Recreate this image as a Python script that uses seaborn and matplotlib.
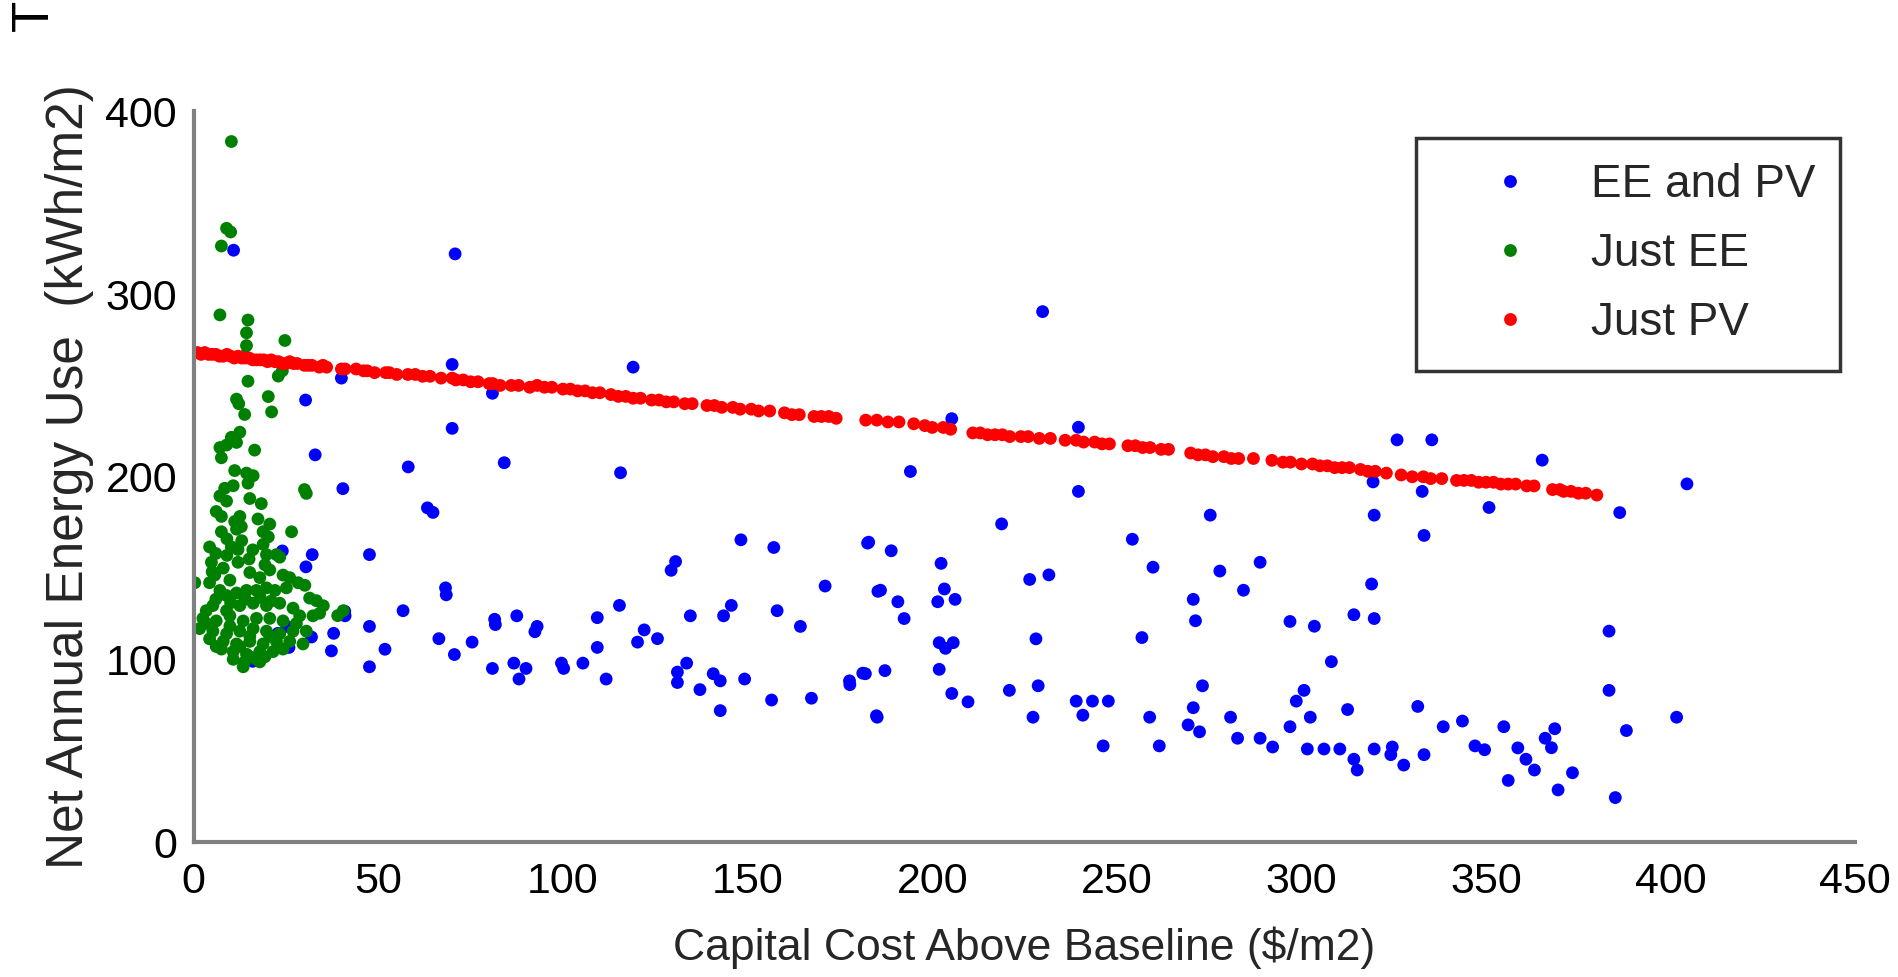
import matplotlib
matplotlib.use("Agg")
import matplotlib.pyplot as plt
import seaborn as sns
import pandas as pd

# ---------------- data ----------------
series_labels = ["EE and PV", "Just EE", "Just PV"]
series_colors = ["#0000ff", "#008000", "#ff0000"]
x_ticks = [0, 50, 100, 150, 200, 250, 300, 350, 400, 450]
y_ticks = [0, 100, 200, 300, 400]

ee_pv_points = [
    (10.8, 324), (70.8, 322),
    (70.0, 261.5), (119, 260), (40, 254), (80.9, 245.7), (30.3, 242), (70, 226.5), (32.9, 212),
    (58.1, 205.4), (84.1, 207.7), (115.6, 202.2), (40.4, 193.5), (63.3, 183), (64.8, 180.5),
    (148.2, 165.5), (157.1, 161.3), (182.8, 164.2), (130.5, 153.6), (129.3, 148.8), (24, 159.4),
    (32.1, 157.4), (30.4, 150.7), (47.6, 157.4), (171, 140.2), (68.2, 139.2), (68.4, 135.4),
    (185.3, 137.3), (56.7, 126.7), (41, 123.9), (115.3, 129.6), (145.6, 129.6), (134.5, 123.9),
    (143.5, 123.9), (158, 126.7), (81.5, 122), (81.7, 119.1), (87.5, 123.9), (109.3, 122.9),
    (164.3, 118.1), (93, 118.1), (92.4, 115.2), (47.6, 118.1), (122, 116.2), (125.6, 111.4),
    (120.2, 109.5), (109.3, 106.6), (25.2, 118.1), (22.8, 114.3), (31.9, 112.3), (37.9, 114.3),
    (37.3, 104.7), (66.4, 111.4), (75.4, 109.5), (51.8, 105.6), (70.6, 102.7), (25.8, 106.6),
    (47.6, 96), (80.9, 95.1), (86.7, 98), (90, 95.1), (88.1, 89.3), (99.6, 98), (100.2, 95.1),
    (105.4, 98), (111.7, 89.3), (131, 93.1), (131, 87.4), (133.5, 98), (137.1, 83.5), (140.7, 92.2),
    (142.6, 88.3), (142.6, 72), (149.2, 89.3), (156.5, 77.8), (167.3, 78.8), (177.6, 88.3),
    (181.9, 92.2), (184.9, 69.2), (16, 99), (40.9, 126.4),
    (229.9, 290.4), (205.3, 231.8), (239.6, 227.1), (325.9, 220.2), (335.3, 220.2), (365.2, 209.1),
    (194.1, 202.9), (404.4, 196.1), (239.6, 192), (319.4, 197.2), (332.7, 192), (350.8, 183.2),
    (386.2, 180.4), (275.3, 179), (319.7, 179), (218.8, 174.2), (182.5, 163.7), (188.9, 159.5),
    (254.2, 165.8), (333.2, 167.9), (202.4, 152.6), (259.8, 150.5), (277.9, 148.4), (288.8, 153.2),
    (226.4, 143.8), (231.6, 146.3), (319, 141.3), (186, 137.9), (190.7, 131.6), (203.3, 138.6),
    (201.5, 131.6), (206.2, 132.9), (270.7, 132.9), (284.3, 137.9), (192.4, 122.4), (296.9, 120.8),
    (303.5, 118.2), (314.2, 124.5), (319.7, 122.4), (271.3, 121.2), (383.3, 115.5), (201.9, 109.2),
    (205.7, 109.2), (203.6, 106.1), (228.1, 111.3), (256.8, 112), (308.1, 98.8), (181.2, 92.5),
    (187.2, 93.9), (177.7, 86.2), (201.9, 94.6), (205.3, 81.4), (209.7, 76.8), (220.9, 83.1),
    (228.7, 85.6), (273.2, 85.6), (300.7, 83.1), (298.6, 77.2), (383.3, 83.1), (239, 77.2),
    (243.4, 77.2), (247.7, 77.2), (240.8, 69.5), (270.7, 73.6), (269.3, 64.2), (272.4, 60.4),
    (331.5, 74.3), (185.1, 68.4), (227.3, 68.4), (258.9, 68.4), (280.8, 68.4), (302.4, 68.4),
    (312.5, 72.6), (296.9, 63.2), (401.6, 68.4), (338.4, 63.2), (343.6, 66.3), (354.8, 63.2),
    (388, 61.1), (368.6, 62.1), (366, 56.9), (367.7, 51.7), (246.3, 52.7), (261.5, 52.7),
    (282.7, 56.9), (288.8, 56.9), (292.2, 52.1), (301.6, 51), (306.1, 51), (310.4, 51),
    (314.2, 45.4), (315.1, 39.5), (319.7, 51), (324.6, 52.1), (324.2, 47.9), (327.7, 42.2),
    (333.2, 47.9), (347, 52.7), (349.6, 50.6), (358.6, 51.6), (360.8, 45.4), (363.1, 39.5),
    (356, 33.8), (369.5, 28.6), (373.4, 38), (385, 24.4),
]
ee_pv_cost = [p[0] for p in ee_pv_points]
ee_pv_energy = [p[1] for p in ee_pv_points]

just_ee_points = [
    (10.2, 383.5), (8.9, 336), (10, 334), (7.5, 326.3), (7.1, 288.6), (14.7, 285.8), (14.3, 278.8),
    (24.7, 274.6), (14.3, 271.8), (13.8, 266.2), (22.9, 255.1), (24, 258), (14.7, 252.3),
    (11.6, 242.5), (12.2, 240), (20.2, 243.9), (21.1, 235.5), (13.8, 234.1), (12.5, 224.4),
    (10.2, 221.6), (8.9, 217.4), (7.1, 216), (11.6, 218.8), (16.5, 214.6), (7.5, 210.4),
    (11.1, 203.4), (14.3, 202), (16.1, 200.6), (8.4, 193.7), (10.7, 195.1), (14.7, 196.5),
    (30.5, 190.9), (30, 193), (7.1, 189.5), (8.9, 186.7), (15.2, 188.1), (18.3, 185.3), (6.1, 181),
    (7.5, 178.3), (12.5, 178.3), (11.1, 175.5), (17.4, 176.9), (20.6, 174.1), (7.5, 169.9),
    (11.6, 171.3), (12.9, 172.7), (18.8, 169.9), (20.2, 167.1), (26.5, 169.9), (4.3, 161.6),
    (10.2, 161.6), (12, 160.2), (18.8, 163), (19.7, 157.4), (4.8, 153.2), (12, 153.2), (19.3, 151.8),
    (20.6, 149), (22.4, 157.4), (23.3, 156), (0.3, 142), (4.3, 142), (5.7, 146.2), (24.2, 146.2),
    (26, 144.8), (28.3, 142), (30.1, 140.6), (25.1, 139.2), (7.1, 137.8), (8.9, 135), (11.6, 136.4),
    (14.3, 137.8), (17, 137.8), (19.7, 139.2), (22, 137.8), (31.4, 133.6), (33.2, 132.2),
    (35.1, 129.4), (40.5, 126.7), (39, 124), (32.3, 123.9), (34.1, 125.3), (2.5, 122.5),
    (6.1, 121.1), (9.8, 123.9), (13.4, 121.1), (17, 122.5), (20.6, 122.5), (24.2, 121.1),
    (27.8, 119.7), (1.6, 116.9), (5.2, 115.5), (8.9, 114.1), (12.5, 115.5), (16.1, 116.9),
    (19.7, 115.5), (23.3, 114.1), (26.9, 115.5), (30.5, 115.5), (4.3, 111.3), (8, 109.9),
    (11.6, 108.5), (15.2, 109.9), (18.8, 108.5), (22.4, 109.9), (26, 109.9), (29.6, 108.5),
    (7.5, 105.7), (10.7, 104.3), (14.3, 102.9), (17.9, 104.3), (21.5, 104.3), (24.2, 105.7),
    (10.7, 100.1), (13.8, 98.7), (17, 100.1), (19.3, 101.5), (13.4, 96), (3.4, 119.7), (9.8, 118.3),
    (15.2, 112.7), (20.6, 112.7), (6.1, 107.1), (12.5, 107.1), (17.9, 98.7), (15.2, 101.5),
    (8.9, 126.7), (12.5, 129.5), (16.1, 130.8), (19.7, 129.5), (23.3, 130.8), (26.9, 128.1),
    (28.7, 123.9), (5.2, 129.5), (3.4, 126.7), (9.8, 143.4), (15.2, 147.6), (17.9, 144.8),
    (6, 133), (10, 131), (14, 133), (18, 134), (21, 132), (5, 148), (8, 150), (15, 155), (9, 157),
    (16, 160), (13, 165), (9, 166), (6, 158),
]
just_ee_cost = [p[0] for p in just_ee_points]
just_ee_energy = [p[1] for p in just_ee_points]

just_pv_points = [
    (0, 268), (1, 268), (2, 267), (3, 268), (4, 267), (5, 267), (6, 267), (7, 266), (8, 266), (9, 267),
    (10, 266), (11, 265), (12, 266), (13, 265), (14, 265), (15, 265), (16, 264), (17, 264), (18, 264),
    (19, 264), (20, 263), (21, 264), (22, 263), (23, 263), (24, 262), (25, 262), (26, 263), (27, 262),
    (28, 262), (30, 261), (31, 261), (32, 261), (34, 260), (35, 261), (36, 260), (40, 259), (41, 259),
    (44, 259), (46, 258), (47, 258), (49, 257), (52, 257), (53, 257), (55, 256), (58, 256), (60, 256),
    (62, 255), (64, 255), (67, 254), (70, 254), (71, 253), (73, 253), (75, 252), (77, 252), (80, 251),
    (81, 251), (83, 250), (86, 250), (88, 250), (91, 249), (93, 250), (95, 249), (97, 249), (100, 248),
    (102, 248), (104, 247), (106, 247), (108, 246), (110, 246), (113, 245), (115, 244), (117, 244),
    (119, 243), (121, 243), (124, 242), (126, 242), (128, 241), (130, 241), (133, 240), (135, 240),
    (139, 239), (141, 239), (143, 238), (146, 238), (148, 237), (151, 237), (153, 236), (156, 236),
    (160, 235), (162, 234), (164, 234), (168, 233), (170, 233), (172, 233), (174, 232), (182, 231),
    (185, 231), (188, 230), (191, 230), (195, 229), (198, 228), (200, 227), (203, 227), (205, 226),
    (211, 224), (213, 224), (215, 223), (217, 223), (219, 223), (221, 222), (224, 222), (226, 222),
    (229, 221), (232, 221), (236, 220), (239, 220), (241, 219), (244, 219), (246, 218), (248, 218),
    (253, 217), (255, 217), (257, 216), (259, 216), (262, 215), (264, 215), (270, 213), (272, 212),
    (274, 212), (276, 211), (279, 211), (281, 210), (283, 210), (287, 210), (292, 209), (295, 208),
    (297, 208), (300, 207), (303, 207), (305, 206), (307, 206), (309, 205), (311, 205), (313, 205),
    (316, 204), (318, 203), (320, 203), (323, 202), (327, 201), (330, 200), (333, 200), (335, 199),
    (338, 199), (342, 198), (344, 198), (346, 198), (348, 197), (350, 197), (352, 197), (354, 196),
    (356, 196), (358, 196), (361, 195), (363, 195), (368, 193), (370, 193), (371, 192), (373, 192),
    (375, 191), (377, 191), (380, 190),
]
just_pv_cost = [p[0] for p in just_pv_points]
just_pv_energy = [p[1] for p in just_pv_points]

# ---------------- style ----------------
sns.set_style("white")
plt.rcParams["font.family"] = ["Liberation Sans", "DejaVu Sans"]
fs = 31

df = pd.DataFrame({
    "cost": ee_pv_cost + just_ee_cost + just_pv_cost,
    "energy": ee_pv_energy + just_ee_energy + just_pv_energy,
    "series": [series_labels[0]] * len(ee_pv_cost) + [series_labels[1]] * len(just_ee_cost)
              + [series_labels[2]] * len(just_pv_cost),
})

fig = plt.figure(figsize=(18.99, 9.77), dpi=100)
ax = fig.add_axes([0.102, 0.138, 0.875, 0.748])
sns.scatterplot(data=df, x="cost", y="energy", hue="series", hue_order=series_labels,
                palette=dict(zip(series_labels, series_colors)), s=85, linewidth=0,
                ax=ax, legend=True)

ax.set_xlim(0, 450)
ax.set_ylim(0, 400)
ax.set_xticks(x_ticks)
ax.set_yticks(y_ticks)
ax.set_xticklabels([str(v) for v in x_ticks])
ax.set_yticklabels([str(v) for v in y_ticks])
ax.set_xlabel("Capital Cost Above Baseline ($/m2)", fontsize=32, labelpad=18)
ax.set_ylabel("Net Annual Energy Use  (kWh/m2)", fontsize=37, labelpad=8)
ax.tick_params(axis="both", direction="in", length=15, width=2, color="#808080",
               labelsize=fs, labelcolor="black")
ax.tick_params(axis="x", pad=14)
ax.tick_params(axis="y", pad=12)
for side in ["top", "right"]:
    ax.spines[side].set_visible(False)
for side in ["left", "bottom"]:
    ax.spines[side].set_color("#808080")
    ax.spines[side].set_linewidth(3)

handles, labels = ax.get_legend_handles_labels()
leg = ax.legend(handles, labels, loc="upper right", bbox_to_anchor=(0.991, 0.964),
                borderaxespad=0, fontsize=33, frameon=True, fancybox=False,
                edgecolor="black", handletextpad=0.25, labelspacing=0.55,
                borderpad=0.55, handlelength=3.0, markerscale=1.0)
leg.get_frame().set_linewidth(2.5)

fig.text(0.005, 1.0, "T", rotation=90, ha="left", va="top", fontsize=37, color="black")

fig.savefig("out.png", dpi=100)
